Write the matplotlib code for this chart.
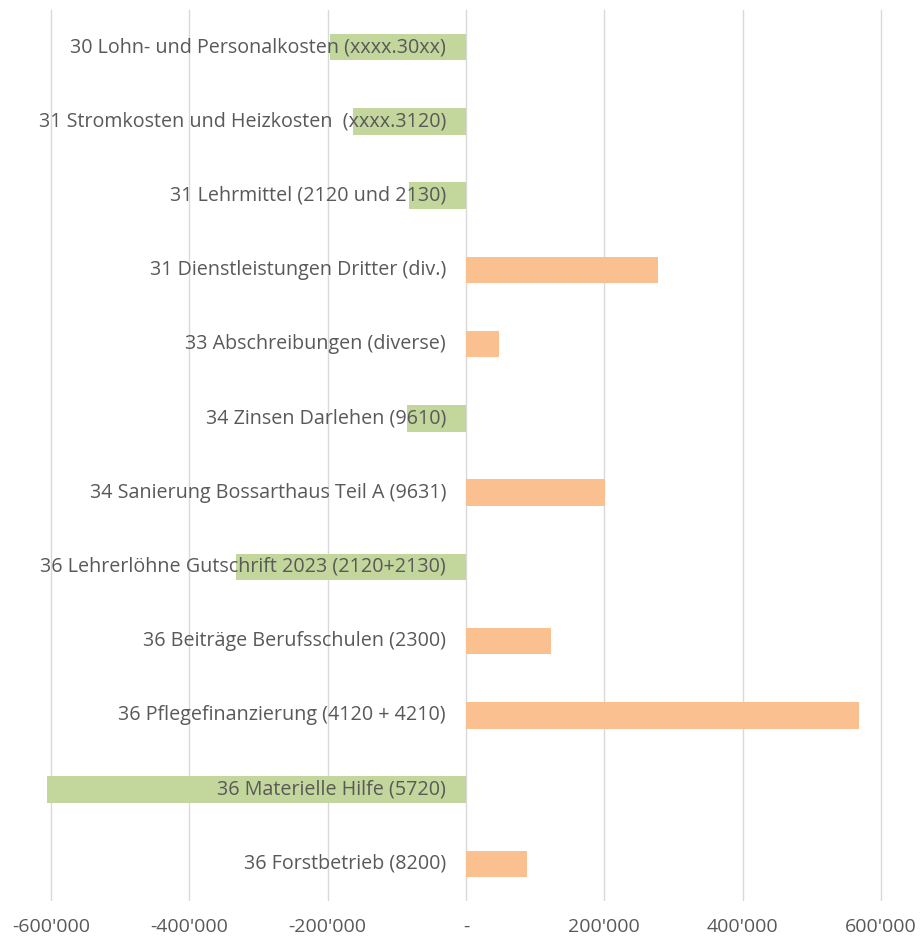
import matplotlib
matplotlib.use("Agg")
import matplotlib.pyplot as plt
from matplotlib.ticker import FuncFormatter

categories = [
    "30 Lohn- und Personalkosten (xxxx.30xx)",
    "31 Stromkosten und Heizkosten  (xxxx.3120)",
    "31 Lehrmittel (2120 und 2130)",
    "31 Dienstleistungen Dritter (div.)",
    "33 Abschreibungen (diverse)",
    "34 Zinsen Darlehen (9610)",
    "34 Sanierung Bossarthaus Teil A (9631)",
    "36 Lehrerlöhne Gutschrift 2023 (2120+2130)",
    "36 Beiträge Berufsschulen (2300)",
    "36 Pflegefinanzierung (4120 + 4210)",
    "36 Materielle Hilfe (5720)",
    "36 Forstbetrieb (8200)",
]
values = [-196000, -164000, -83000, 278000, 47000, -85000, 201000,
          -333000, 123000, 568000, -605000, 88000]
xticks = [-600000, -400000, -200000, 0, 200000, 400000, 600000]

GREEN = "#C3D69B"
ORANGE = "#FAC090"
TEXT = "#595959"

plt.rcParams['font.family'] = ['Open Sans', 'DejaVu Sans']

fig = plt.figure(figsize=(9.21, 9.39), dpi=100)
ax = fig.add_axes([44/921, 38/939, 844/921, 891/939])

y = list(range(len(categories)))
colors = [ORANGE if v >= 0 else GREEN for v in values]
ax.barh(y, values, height=0.36, color=colors, zorder=2)

ax.set_xlim(-610000, 610000)
ax.set_ylim(len(categories) - 0.5, -0.5)
ax.set_xticks(xticks)

def fmt(v, pos):
    if v == 0:
        return "-"
    s = f"{abs(int(v)):,}".replace(",", "'")
    return ("-" if v < 0 else "") + s

ax.xaxis.set_major_formatter(FuncFormatter(fmt))
ax.set_yticks([])
ax.grid(axis='x', color="#D9D9D9", linewidth=1.0, zorder=0)
for s in ax.spines.values():
    s.set_visible(False)
ax.tick_params(axis='x', length=0, pad=12, labelsize=14, labelcolor=TEXT)

for yi, lab in zip(y, categories):
    ax.annotate(lab, xy=(0, yi), xytext=(-20, 0), textcoords='offset pixels',
                ha='right', va='center', fontsize=14.2, color=TEXT, zorder=3)

fig.savefig("out.png", dpi=100)
